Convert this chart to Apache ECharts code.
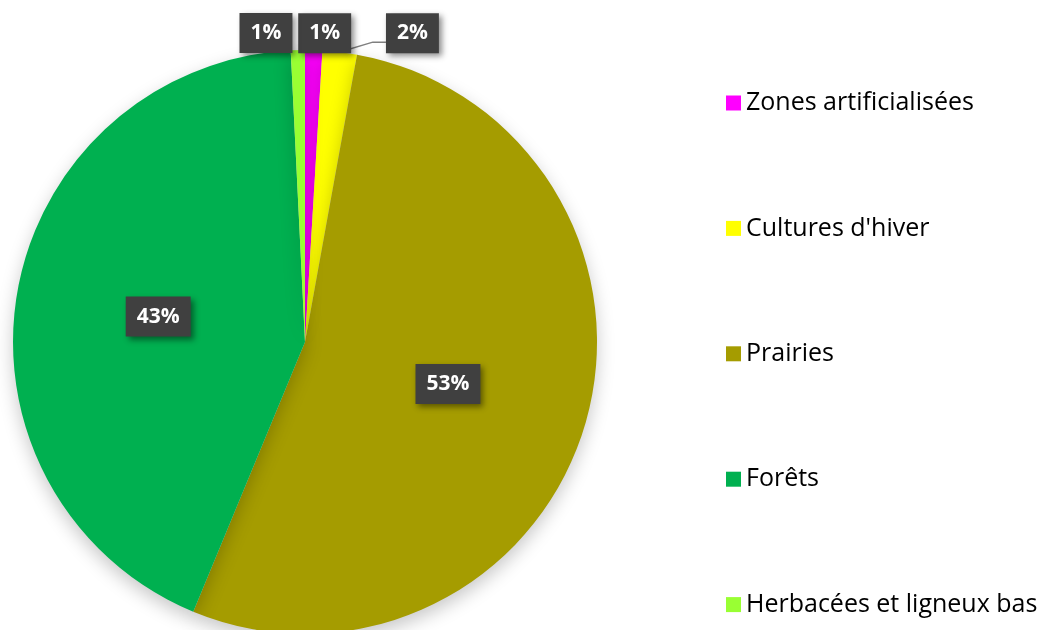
<!DOCTYPE html>
<html>
<head>
<meta charset="utf-8">
<script src="https://cdn.jsdelivr.net/npm/echarts@6/dist/echarts.min.js"></script>
<style>
  html, body { margin: 0; padding: 0; background: #fff; }
  #main { width: 1043px; height: 630px; }
</style>
</head>
<body>
<div id="main"></div>
<script>
// occupation du sol (parts en %)
var categories = ['Zones artificialisées', "Cultures d'hiver", 'Prairies', 'Forêts', 'Herbacées et ligneux bas'];
var values = [0.95, 1.9, 53.4, 42.97, 0.78];
var colors = ['#FF00FF', '#FFFF00', '#A59C00', '#00B050', '#99FF33'];

var chart = echarts.init(document.getElementById('main'));

var labelBox = {
  color: '#fff',
  fontFamily: 'Open Sans',
  fontWeight: 'bold',
  fontSize: 21,
  lineHeight: 24,
  backgroundColor: '#404040',
  padding: [8, 11],
  shadowColor: 'rgba(0,0,0,0.45)',
  shadowBlur: 6,
  shadowOffsetX: 3,
  shadowOffsetY: 3,
  formatter: function (p) { return Math.round(p.percent) + '%'; }
};

var data = [];
for (var i = 0; i < categories.length; i++) {
  var item = { name: categories[i], value: values[i], itemStyle: { color: colors[i] } };
  if (values[i] < 5) {
    item.label = Object.assign({}, labelBox, { position: 'outside' });
    item.labelLine = {
      show: i == 1,
      length: i == 1 ? 10 : 17,
      length2: i == 1 ? 28 : 0,
      lineStyle: { color: '#7f7f7f', width: 1.5 }
    };
  } else {
    item.label = Object.assign({}, labelBox, { position: 'inside' });
  }
  data.push(item);
}

var option = {
  animation: false,
  backgroundColor: '#fff',
  legend: {
    orient: 'vertical',
    left: 721,
    top: 83,
    itemWidth: 15,
    itemHeight: 15,
    itemGap: 95.4,
    icon: 'rect',
    textStyle: { fontFamily: 'Open Sans', fontSize: 25, lineHeight: 30, color: '#000' },
    data: categories
  },
  series: [{
    type: 'pie',
    center: [305, 342],
    radius: 292,
    startAngle: 90,
    clockwise: true,
    avoidLabelOverlap: false,
    itemStyle: {
      shadowColor: 'rgba(0,0,0,0.22)',
      shadowBlur: 18,
      shadowOffsetY: 7
    },
    labelLayout: function (p) {
      if (p.dataIndex === 0) return { dx: -21, hideOverlap: false };
      if (p.dataIndex === 1 && p.labelLinePoints) {
        var pts = p.labelLinePoints;
        return {
          dx: 12,
          dy: -9,
          hideOverlap: false,
          labelLinePoints: [pts[0], [pts[0][0] + 33, pts[1][1]], [pts[2][0] + 17, pts[1][1]]]
        };
      }
      return { hideOverlap: false };
    },
    emphasis: { disabled: true },
    data: data
  }]
};

chart.setOption(option);
</script>
</body>
</html>
